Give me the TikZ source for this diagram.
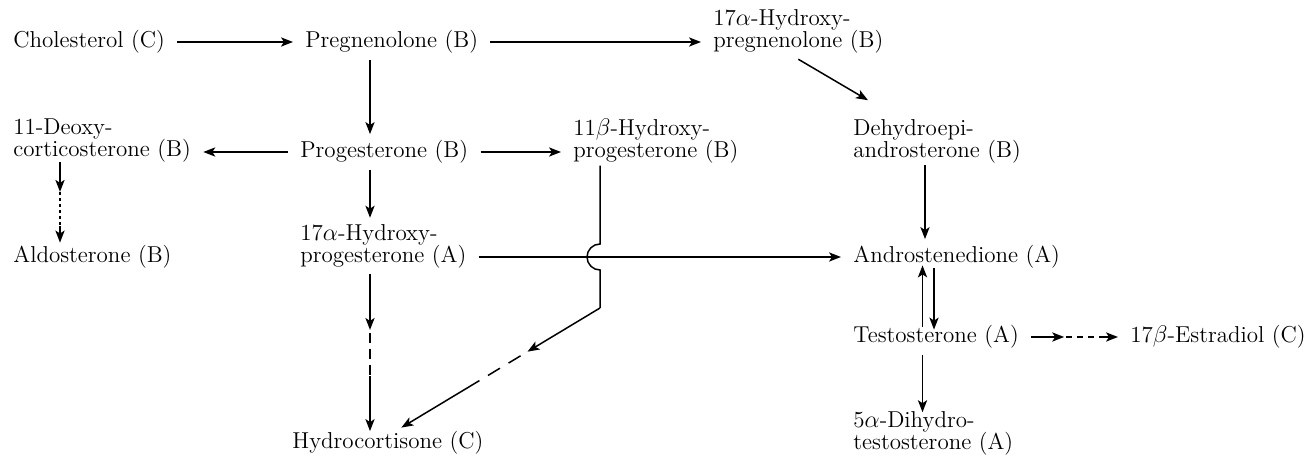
\documentclass[tikz,border=0pt]{standalone}
\usetikzlibrary{arrows.meta,calc}
\begin{document}
\begin{tikzpicture}[x=0.5pt,y=0.5pt,
  lbl/.style={anchor=west,inner xsep=6pt,inner ysep=3pt,align=left,font=\fontsize{11.5}{11}\selectfont},
  arr/.style={-{Stealth[length=6pt,width=4.6pt,inset=1.5pt]},line width=0.75pt},
  ln/.style={line width=0.75pt},
  dsh/.style={line width=0.75pt,dash pattern=on 3pt off 2.5pt},
  ldsh/.style={line width=0.75pt,dash pattern=on 5pt off 3pt},
  dot/.style={line width=0.75pt,dash pattern=on 1.5pt off 1.5pt}]
\useasboundingbox (0,0) rectangle (1310,-458);
\node[lbl] (chol) at (1,-42) {Cholesterol (C)};
\node[lbl] (preg) at (293,-42) {Pregnenolone (B)};
\node[lbl] (ohpreg) at (701,-31) {17$\alpha$-Hydroxy-\\pregnenolone (B)};
\node[lbl] (doc) at (1,-141) {11-Deoxy-\\corticosterone\ (B)};
\node[lbl] (prog) at (288,-152) {Progesterone (B)};
\node[lbl] (obprog) at (561,-141) {11$\beta$-Hydroxy-\\progesterone (B)};
\node[lbl] (dhea) at (841,-141) {Dehydroepi-\\androsterone (B)};
\node[lbl] (aldo) at (1,-257) {Aldosterone (B)};
\node[lbl] (ohprog) at (288,-246) {17$\alpha$-Hydroxy-\\progesterone (A)};
\node[lbl] (andro) at (841,-257) {Androstenedione (A)};
\node[lbl] (testo) at (841,-337) {Testosterone (A)};
\node[lbl] (estr) at (1118,-337) {17$\beta$-Estradiol (C)};
\node[lbl] (dht) at (841,-433) {5$\alpha$-Dihydro-\\testosterone (A)};
\node[lbl] (hc) at (280,-443) {Hydrocortisone (C)};
% column guides
\coordinate (cA) at (370,0);
\coordinate (cB) at (600,0);
\coordinate (cC) at (925,0);
\coordinate (cD) at (922.5,0);
\coordinate (cE) at (934,0);
\coordinate (cF) at (60,0);
% simple arrows
\draw[arr] (chol) -- (preg);
\draw[arr] (preg.east) -- (preg.east -| ohpreg.west);
\draw[arr] (preg.south -| cA) -- (prog.north -| cA);
\draw[arr] (prog.west) -- (prog.west -| doc.east);
\draw[arr] (prog.east) -- (prog.east -| obprog.west);
\draw[arr] (prog.south -| cA) -- (ohprog.north -| cA);
\draw[arr] (ohprog.east |- andro.west) -- (andro.west);
\draw[arr] (ohpreg.south) -- ([xshift=13.5pt,yshift=6.25pt]dhea.north west);
\draw[arr] ([yshift=2pt]dhea.south -| cC) -- (andro.north -| cC);
% androstenedione <-> testosterone
\coordinate (tn) at ([yshift=-3.75pt]testo.north);
\coordinate (as) at ([yshift=4.75pt]andro.south);
\draw[arr] (tn -| cD) -- (as -| cD);
\coordinate (tn2) at ([yshift=-5.25pt]testo.north);
\coordinate (as2) at ([yshift=3.25pt]andro.south);
\draw[arr] (as2 -| cE) -- (tn2 -| cE);
% testosterone -> DHT
\coordinate (wn) at ([yshift=-3.75pt]dht.north);
\draw[arr] (testo.south -| cD) -- (wn -| cD);
% testosterone -> estradiol
\coordinate (t1) at ($(testo.east)!0.38!(estr.west)$);
\coordinate (t2) at ($(testo.east)!0.78!(estr.west)$);
\draw[arr] (testo.east) -- (t1);
\draw[dsh] ([xshift=1pt]t1) -- (t2);
\draw[arr] (t2) -- (estr.west);
% 11-deoxy -> aldosterone
\coordinate (ds) at ([yshift=3.5pt]doc.south);
\coordinate (an) at ([yshift=-1.75pt]aldo.north);
\coordinate (d0) at (ds -| cF);
\coordinate (d3) at (an -| cF);
\coordinate (d1) at ($(d0)!0.37!(d3)$);
\coordinate (d2) at ($(d0)!0.80!(d3)$);
\draw[arr] (d0) -- (d1);
\draw[dot] (d1) -- (d2);
\draw[arr] (d2) -- (d3);
% 17a-OH-progesterone -> hydrocortisone
\coordinate (hn) at ([yshift=-3pt]hc.north);
\coordinate (p0) at (ohprog.south -| cA);
\coordinate (p3) at (hn -| cA);
\coordinate (p1) at ($(p0)!0.355!(p3)$);
\coordinate (p2) at ($(p0)!0.65!(p3)$);
\draw[arr] (p0) -- (p1);
\draw[ldsh] ([yshift=-1.5pt]p1) -- (p2);
\draw[arr] (p2) -- (p3);
% 11b-OH-progesterone -> hydrocortisone (with jump)
\coordinate (ob) at ([yshift=2pt]obprog.south);
\coordinate (q0) at (ob -| cB);
\coordinate (qx) at (cB |- andro.west);
\coordinate (q1) at ([yshift=-25.5pt]qx);
\coordinate (q4) at ([xshift=6.75pt,yshift=-1.25pt]hc.north);
\coordinate (q2) at ($(q1)!0.365!(q4)$);
\coordinate (q2b) at ($(q1)!0.40!(q4)$);
\coordinate (q3) at ($(q1)!0.624!(q4)$);
\draw[ln] (q0) -- ([yshift=6.5pt]qx) arc[start angle=90,end angle=270,radius=13] -- (q1);
\draw[arr] (q1) -- (q2);
\draw[ldsh,dash pattern=on 7pt off 5pt] (q2b) -- (q3);
\draw[arr] (q3) -- (q4);
\end{tikzpicture}
\end{document}
